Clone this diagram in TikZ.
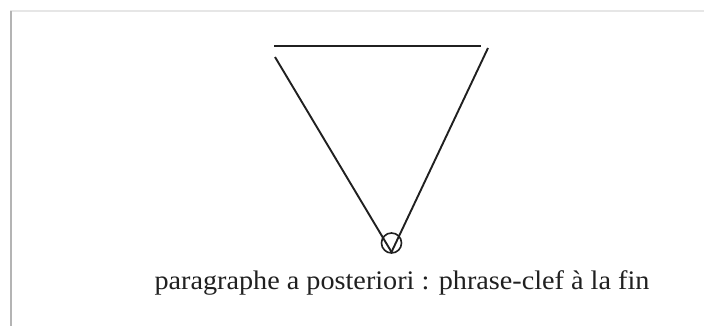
\documentclass[tikz,border=0pt]{standalone}
\usepackage{xcolor}
\usepackage{fontspec}
\setmainfont{Liberation Serif}
\usetikzlibrary{positioning}

\definecolor{framegray}{HTML}{E6E6E6}
\definecolor{sidegray}{HTML}{B4B4B4}
\definecolor{ink}{HTML}{202020}

\begin{document}
\begin{tikzpicture}[x=1pt,y=-1pt, every node/.style={inner sep=0pt,outer sep=0pt},
  trait/.style={draw=ink,line width=1.9pt}]
  \useasboundingbox[fill=white] (0,0) rectangle (704,326);
  % cadre
  \draw[framegray,line width=2pt] (10,11) -- (704,11);
  \draw[sidegray,line width=2.2pt] (11,11) -- (11,326);

  \coordinate (hg) at (274,46);
  \coordinate (hd) at (481,46);
  \coordinate (g) at (275,57);
  \coordinate (d) at (488,48);
  \coordinate (v) at (391.5,252);
  \node[circle,draw=ink,line width=1.6pt,minimum size=20pt] (pt) at (391.5,243) {};
  \node[anchor=base,font=\fontsize{28.2}{33}\selectfont,text=ink,yscale=0.95] (cap) at (402,289)
    {paragraphe a posteriori : phrase-clef à la fin};

  \draw[trait](hg)--(hd);
  \draw[trait](g)--(v);
  \draw[trait](d)--(v);
\end{tikzpicture}
\end{document}
